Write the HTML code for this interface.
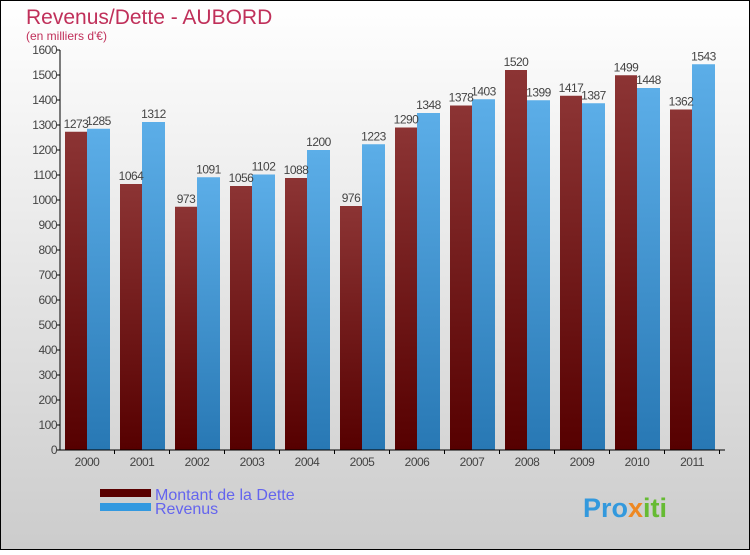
<!DOCTYPE html>
<html><head><meta charset="utf-8"><style>
html,body{margin:0;padding:0}
body{width:750px;height:550px;overflow:hidden;font-family:"Liberation Sans",sans-serif}
</style></head><body>
<svg width="750" height="550" xmlns="http://www.w3.org/2000/svg">
<defs>
<linearGradient id="bg" x1="0" y1="0" x2="0" y2="1"><stop offset="0" stop-color="#ffffff"/><stop offset="1" stop-color="#cccccc"/></linearGradient>
<linearGradient id="gd" x1="0" y1="0" x2="0" y2="1"><stop offset="0" stop-color="#8c3434"/><stop offset="1" stop-color="#560000"/></linearGradient>
<linearGradient id="gr" x1="0" y1="0" x2="0" y2="1"><stop offset="0" stop-color="#5caee8"/><stop offset="1" stop-color="#2878b4"/></linearGradient>
</defs>
<rect x="0.5" y="0.5" width="749" height="549" fill="url(#bg)" stroke="#000"/>
<text x="26" y="24" font-size="21" fill="#c0305a">Revenus/Dette - AUBORD</text>
<text x="26" y="40" font-size="12" fill="#c0305a">(en milliers d'€)</text>
<g id="plot"></g>
<rect x="100" y="489" width="51" height="8" fill="#5a0000"/>
<text x="155" y="500" font-size="16" fill="#6464ee">Montant de la Dette</text>
<rect x="100" y="503" width="51" height="8" fill="#3399e0"/>
<text x="155" y="514" font-size="16" fill="#6464ee">Revenus</text>
<text x="583" y="517" font-size="27" font-weight="bold" fill="#3399dd">Pro<tspan fill="#ee8822">x</tspan><tspan fill="#66bb33">iti</tspan></text>
</svg>
<script>
const years=["2000","2001","2002","2003","2004","2005","2006","2007","2008","2009","2010","2011"];
const dette=[1273,1064,973,1056,1088,976,1290,1378,1520,1417,1499,1362];
const revenus=[1285,1312,1091,1102,1200,1223,1348,1403,1399,1387,1448,1543];
const ticks=[0,100,200,300,400,500,600,700,800,900,1000,1100,1200,1300,1400,1500,1600];
const NS="http://www.w3.org/2000/svg";
const g=document.getElementById('plot');
const y0=450,yScale=v=>y0-v*0.25;
const xc=i=>87+55*i;
function mk(t,a){const e=document.createElementNS(NS,t);for(const k in a)e.setAttribute(k,a[k]);g.appendChild(e);return e;}
ticks.forEach(t=>{
 const l=mk('line',{x1:56,x2:60,y1:yScale(t),y2:yScale(t),stroke:'#000'});
 
 
 const tx=mk('text',{x:57,y:yScale(t)+4,'font-size':12,'text-anchor':'end',fill:'#444','letter-spacing':'-0.5'});
 tx.textContent=t;
 
 
});
years.forEach((yr,i)=>{
 const c=xc(i);
 const b1=mk('rect',{x:c-22,y:yScale(dette[i]),width:22,height:dette[i]*0.25,fill:'url(#gd)'});
 
 
 const b2=mk('rect',{x:c,y:yScale(revenus[i]),width:23,height:revenus[i]*0.25,fill:'url(#gr)'});
 
 
 const t1=mk('text',{x:c-11,y:yScale(dette[i])-4,'font-size':12,'text-anchor':'middle',fill:'#444','letter-spacing':'-0.5'});
 t1.textContent=dette[i];
 
 
 const t2=mk('text',{x:c+11.5,y:yScale(revenus[i])-4,'font-size':12,'text-anchor':'middle',fill:'#444','letter-spacing':'-0.5'});
 t2.textContent=revenus[i];
 
 
 const xt=mk('text',{x:c,y:466,'font-size':12,'text-anchor':'middle',fill:'#444','letter-spacing':'-0.5'});
 xt.textContent=yr;
 
 
 const tk=mk('line',{x1:c+27.5,x2:c+27.5,y1:450,y2:454,stroke:'#000'});
 
 
});
const ya=mk('line',{x1:60,x2:60,y1:50,y2:450,stroke:'#000'});


const xa=mk('line',{x1:60,x2:725,y1:450,y2:450,stroke:'#000'});


</script>
</body></html>
